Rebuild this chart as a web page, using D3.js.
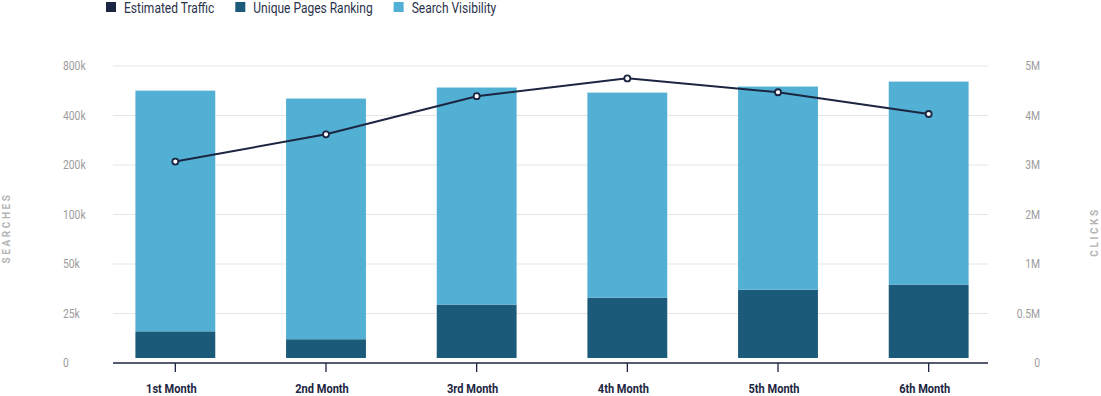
<!DOCTYPE html>
<html>
<head>
<meta charset="utf-8">
<script src="https://cdnjs.cloudflare.com/ajax/libs/d3/7.8.5/d3.min.js"></script>
<style>
  body { margin: 0; background: #fff; }
  svg { display: block; font-family: Roboto, "Open Sans", sans-serif; }
</style>
</head>
<body>
<svg id="chart" width="1101" height="396"></svg>
<script>
// data
const months = ["1st Month", "2nd Month", "3rd Month", "4th Month", "5th Month", "6th Month"];
const uniquePages = [16000, 12000, 29500, 33000, 37000, 39600];
const searchVisibility = [585000, 525000, 596500, 552000, 597000, 634400];
const estimatedTraffic = [3070000, 3620000, 4390000, 4750000, 4470000, 4030000];
const leftTicks = [0, 25000, 50000, 100000, 200000, 400000, 800000];
const leftLabels = ["0", "25k", "50k", "100k", "200k", "400k", "800k"];
const rightTicks = [0, 500000, 1000000, 2000000, 3000000, 4000000, 5000000];
const rightLabels = ["0", "0.5M", "1M", "2M", "3M", "4M", "5M"];
const seriesNames = ["Estimated Traffic", "Unique Pages Ranking", "Search Visibility"];

const colors = { traffic: "#1c2541", pages: "#1b5a78", visibility: "#51b0d3" };

const svg = d3.select("#chart");
const plotLeft = 113, plotRight = 988, plotTop = 66, plotBottom = 363;

// shrink text a bit to imitate a condensed face
function condense(sel, k) {
    sel.each(function() {
        let w = this.getComputedTextLength();
        d3.select(this).attr("textLength", w * k).attr("lengthAdjust", "spacingAndGlyphs");
    });
}

// both value axes use evenly spaced, non-linear ticks
const stepY = (plotBottom - plotTop) / (leftTicks.length - 1);
const yL = d3.scaleLinear()
    .domain(leftTicks)
    .range(leftTicks.map((d, i) => plotBottom - i * stepY));
const yR = d3.scaleLinear()
    .domain(rightTicks)
    .range(rightTicks.map((d, i) => plotBottom - i * stepY));

const x = d3.scaleBand()
    .domain(months)
    .range([100, 1004])
    .paddingInner(0.47)
    .paddingOuter(0.235);

// grid
svg.append("g").selectAll("line")
    .data(leftTicks.slice(1))
    .join("line")
    .attr("x1", plotLeft).attr("x2", plotRight)
    .attr("y1", d => yL(d)).attr("y2", d => yL(d))
    .attr("stroke", "#e6e6e6")
    .attr("stroke-width", 1);

// left axis labels
let leftAxis = svg.append("g")
    .selectAll("text")
    .data(leftTicks)
    .join("text")
    .attr("x", 63)
    .attr("y", d => yL(d))
    .attr("dy", "0.35em")
    .attr("fill", "#9c9c9c")
    .style("font-size", "12px")
    .text((d, i) => leftLabels[i]);
condense(leftAxis, 0.86);

// right axis labels
let rightAxis = svg.append("g")
    .selectAll("text")
    .data(rightTicks)
    .join("text")
    .attr("x", 1040)
    .attr("y", d => yR(d))
    .attr("dy", "0.35em")
    .attr("text-anchor", "end")
    .attr("fill", "#9c9c9c")
    .style("font-size", "12px")
    .text((d, i) => rightLabels[i]);
condense(rightAxis, 0.86);

// axis titles
svg.append("text")
    .attr("transform", "translate(10,228) rotate(-90)")
    .attr("text-anchor", "middle")
    .attr("fill", "#b4b4b4")
    .style("font-size", "10px")
    .style("font-weight", "bold")
    .style("letter-spacing", "2.6px")
    .text("SEARCHES");

svg.append("text")
    .attr("transform", "translate(1098,232) rotate(-90)")
    .attr("text-anchor", "middle")
    .attr("fill", "#b4b4b4")
    .style("font-size", "10px")
    .style("font-weight", "bold")
    .style("letter-spacing", "2.6px")
    .text("CLICKS");

// stacked bars, sitting a little above the axis line
const barBase = yL(0) - 5;
const bars = svg.append("g");
bars.selectAll("rect.pages")
    .data(months)
    .join("rect")
    .attr("class", "pages")
    .attr("x", d => x(d))
    .attr("width", x.bandwidth())
    .attr("y", (d, i) => yL(uniquePages[i]))
    .attr("height", (d, i) => barBase - yL(uniquePages[i]))
    .attr("fill", colors.pages);

bars.selectAll("rect.visibility")
    .data(months)
    .join("rect")
    .attr("class", "visibility")
    .attr("x", d => x(d))
    .attr("width", x.bandwidth())
    .attr("y", (d, i) => yL(uniquePages[i] + searchVisibility[i]))
    .attr("height", (d, i) => yL(uniquePages[i]) - yL(uniquePages[i] + searchVisibility[i]))
    .attr("fill", colors.visibility);

// x axis
svg.append("line")
    .attr("x1", plotLeft).attr("x2", plotRight)
    .attr("y1", plotBottom).attr("y2", plotBottom)
    .attr("stroke", colors.traffic)
    .attr("stroke-width", 1.5);

svg.append("g").selectAll("line")
    .data(months)
    .join("line")
    .attr("x1", d => x(d) + x.bandwidth() / 2)
    .attr("x2", d => x(d) + x.bandwidth() / 2)
    .attr("y1", plotBottom).attr("y2", plotBottom + 9)
    .attr("stroke", colors.traffic)
    .attr("stroke-width", 1.3);

let xLabels = svg.append("g").selectAll("text")
    .data(months)
    .join("text")
    .attr("x", d => x(d) + x.bandwidth() / 2 - 4)
    .attr("y", 393)
    .attr("text-anchor", "middle")
    .attr("fill", colors.traffic)
    .style("font-size", "13px")
    .style("font-weight", "bold")
    .text(d => d);
condense(xLabels, 0.85);

// line series
const line = d3.line()
    .x((d, i) => x(months[i]) + x.bandwidth() / 2)
    .y(d => yR(d));

svg.append("path")
    .datum(estimatedTraffic)
    .attr("d", line)
    .attr("fill", "none")
    .attr("stroke", colors.traffic)
    .attr("stroke-width", 2);

svg.append("g").selectAll("circle")
    .data(estimatedTraffic)
    .join("circle")
    .attr("cx", (d, i) => x(months[i]) + x.bandwidth() / 2)
    .attr("cy", d => yR(d))
    .attr("r", 3)
    .attr("fill", "#fff")
    .attr("stroke", colors.traffic)
    .attr("stroke-width", 1.8);

// legend
const legendColors = [colors.traffic, colors.pages, colors.visibility];
const legend = svg.append("g").attr("transform", "translate(106,2)");
let lx = 0;
seriesNames.forEach((name, i) => {
    let item = legend.append("g").attr("transform", "translate(" + lx + ",0)");
    item.append("rect")
        .attr("width", 10).attr("height", 10)
        .attr("fill", legendColors[i]);
    let t = item.append("text")
        .attr("x", 18)
        .attr("y", 11)
        .attr("fill", "#2a324b")
        .style("font-size", "15px")
        .text(name);
    condense(t, 0.8);
    lx += 18 + (+t.attr("textLength")) + 21;
});
</script>
</body>
</html>
